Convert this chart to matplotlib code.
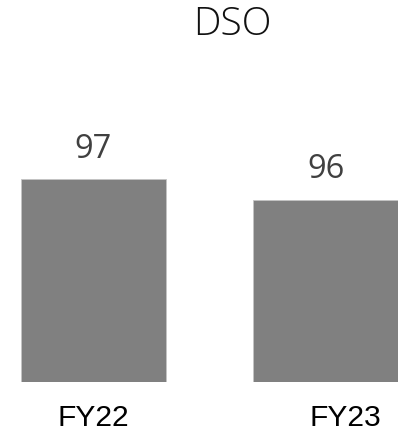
import matplotlib
matplotlib.use("Agg")
import matplotlib.pyplot as plt
from matplotlib.transforms import blended_transform_factory, ScaledTranslation

# data
categories = ["FY22", "FY23"]
dso_values = [97, 96]
title = "DSO"

W, H = 419, 432
fig = plt.figure(figsize=(W / 100, H / 100), dpi=100)

# axes placed in pixels: left 20.7, right 398.3, bottom at y=382.3 from top
ax = fig.add_axes([20.7 / W, (H - 382.3) / H, 377.6 / W, 264 / H])

x = range(len(categories))
bars = ax.bar(x, dso_values, width=0.6255, color="#808080",
              edgecolor="#c4c4c4", linewidth=0.6)
ax.set_xlim(-0.3128, 1.3128)
ax.set_ylim(87, 100)
ax.axis("off")

# value labels above bars
for xi, v in zip(x, dso_values):
    ax.annotate(str(v), (xi, v), xytext=(0, 15.5), textcoords="offset points",
                ha="center", va="baseline", fontsize=23.5, color="#404040",
                family="Open Sans")

# category labels under the bars (second one sits a bit to the right)
trans = blended_transform_factory(ax.transData, fig.transFigure)
shifts = [0.0, 0.2]
for xi, cat, dx in zip(x, categories, shifts):
    t = trans + ScaledTranslation(dx, 0, fig.dpi_scale_trans)
    fig.text(xi, 5.5 / H, cat, transform=t, ha="center", va="baseline",
             fontsize=21.6, color="black", family="Liberation Sans")

fig.text(232.5 / W, 1 - 35 / H, title, ha="center", va="baseline",
         fontsize=28, color="#111111", family="Open Sans", fontweight="light")

fig.savefig("out.png", dpi=100)
